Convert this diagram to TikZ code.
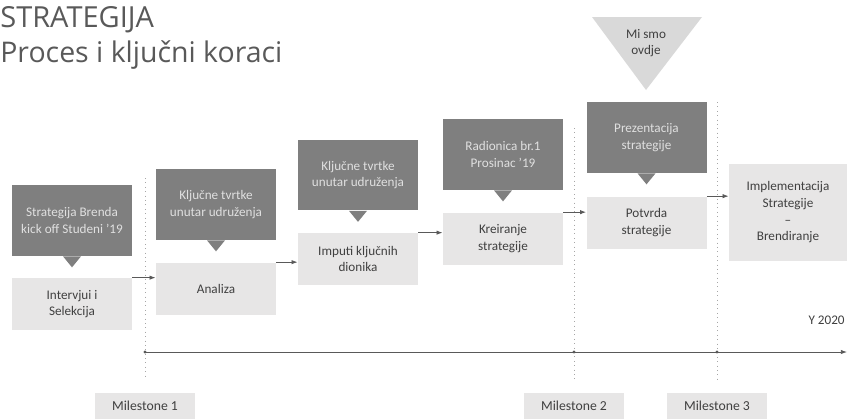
\documentclass[tikz,border=0pt]{standalone}
\usepackage{fontspec}
\setmainfont{Carlito}
\newfontfamily\titlefont{Open Sans}
\usetikzlibrary{arrows.meta}
\definecolor{boxdark}{HTML}{7F7F7F}
\definecolor{boxlight}{HTML}{E7E6E6}
\definecolor{herefill}{HTML}{D9D9D9}
\definecolor{txtgray}{HTML}{595959}
\definecolor{txtdark}{HTML}{404040}

\begin{document}
\begin{tikzpicture}[x=0.02cm,y=-0.02cm,%,cap=round,>=latex]
	darkbox/.style={fill=boxdark,text=white!88!black,minimum width=2.4cm,minimum height=1.42cm,inner sep=0pt,align=center,font=\fontsize{7.5}{9.5}\selectfont},
	lightbox/.style={fill=boxlight,text=txtdark,minimum width=2.4cm,minimum height=1.04cm,inner sep=0pt,align=center,font=\fontsize{7.5}{9.5}\selectfont},
	milebox/.style={fill=boxlight,text=txtdark,minimum width=2cm,minimum height=0.52cm,inner sep=0pt,font=\fontsize{7.8}{9}\selectfont},
	flow/.style={draw=txtgray,line width=0.5pt,-{Latex[length=3.5pt,width=2.5pt]}},
	mileline/.style={draw=gray!70,dotted,line width=0.5pt}]
					\useasboundingbox (0,0) rectangle (847,419);
					% naslov
					\node[anchor=base west,inner sep=0pt,text=txtgray,font=\titlefont\fontsize{16.5}{20}\selectfont] (title) at (0,27) {STRATEGIJA};
					\node[anchor=base west,inner sep=0pt,text=txtgray,font=\titlefont\fontsize{16.2}{20}\selectfont] (subtitle) at (0,62) {Proces i ključni koraci};
					
					% milestone linije
					\coordinate (m1top) at (145,178);
					\coordinate (m1bot) at (145,380);
					\coordinate (m2top) at (574,128);
					\coordinate (m2bot) at (574,380);
					\coordinate (m3top) at (717,102);
					\coordinate (m3bot) at (717,380);
					\draw[mileline] (m1top) -- (m1bot);
					\draw[mileline] (m2top) -- (m2bot);
					\draw[mileline] (m3top) -- (m3bot);
					
					% vremenska os
					\coordinate (t0) at (145,352);
					\coordinate (tend) at (847,352);
					\draw[flow] (t0) -- (tend);
					\foreach \m in {m1top,m2top,m3top}
						\fill[txtgray] (\m |- t0) circle (1.6);
					\node[anchor=east,inner sep=0pt,text=txtdark,font=\fontsize{7.5}{9}\selectfont] (year) at (845,320) {Y 2020};
					
					\node[milebox] (ms1) at (m1top |- 0,406) {Milestone 1};
					\node[milebox] (ms2) at (m2top |- 0,406) {Milestone 2};
					\node[milebox] (ms3) at (m3top |- 0,406) {Milestone 3};
					
					% koraci
					\node[darkbox] (d1) at (72,220.5) {Strategija Brenda\\kick off Studeni ’19};
					\node[lightbox] (l1) at (72,304) {Intervjui i\\Selekcija};
					\node[darkbox] (d2) at (216,204.5) {Ključne tvrtke\\unutar udruženja};
					\node[lightbox] (l2) at (216,288.5) {Analiza};
					\node[darkbox] (d3) at (358,175) {Ključne tvrtke\\unutar udruženja};
					\node[lightbox] (l3) at (358,259) {Imputi ključnih\\dionika};
					\node[darkbox] (d4) at (503,154.5) {Radionica br.1\\Prosinac ’19};
					\node[lightbox] (l4) at (503,238.5) {Kreiranje\\strategije};
					\node[darkbox] (d5) at (646.5,137.5) {Prezentacija\\strategije};
					\node[lightbox] (l5) at (646.5,222.5) {Potvrda\\strategije};
					\node[lightbox,minimum width=2.36cm,minimum height=1.94cm] (l6) at (788,212.5) {Implementacija\\Strategije\\--\\Brendiranje};
					
					\foreach \b in {d1,d2,d3,d4,d5}
						\fill[boxdark] (\b.south) ++(-9,0) -- ++(18,0) -- ++(-9,11) -- cycle;
					
					\foreach \a/\b in {l1/l2,l2/l3,l3/l4,l4/l5,l5/l6}
						\draw[flow] (\a.north east) -- (\a.north east -| \b.west);
					
					% mi smo ovdje
					\fill[herefill] (592,17) -- (702,17) -- (646,90) -- cycle;
					\node[align=center,inner sep=0pt,text=txtdark,font=\fontsize{7.5}{9.5}\selectfont] (here) at (646,43) {Mi smo\\ovdje};
				\end{tikzpicture}
\end{document}
